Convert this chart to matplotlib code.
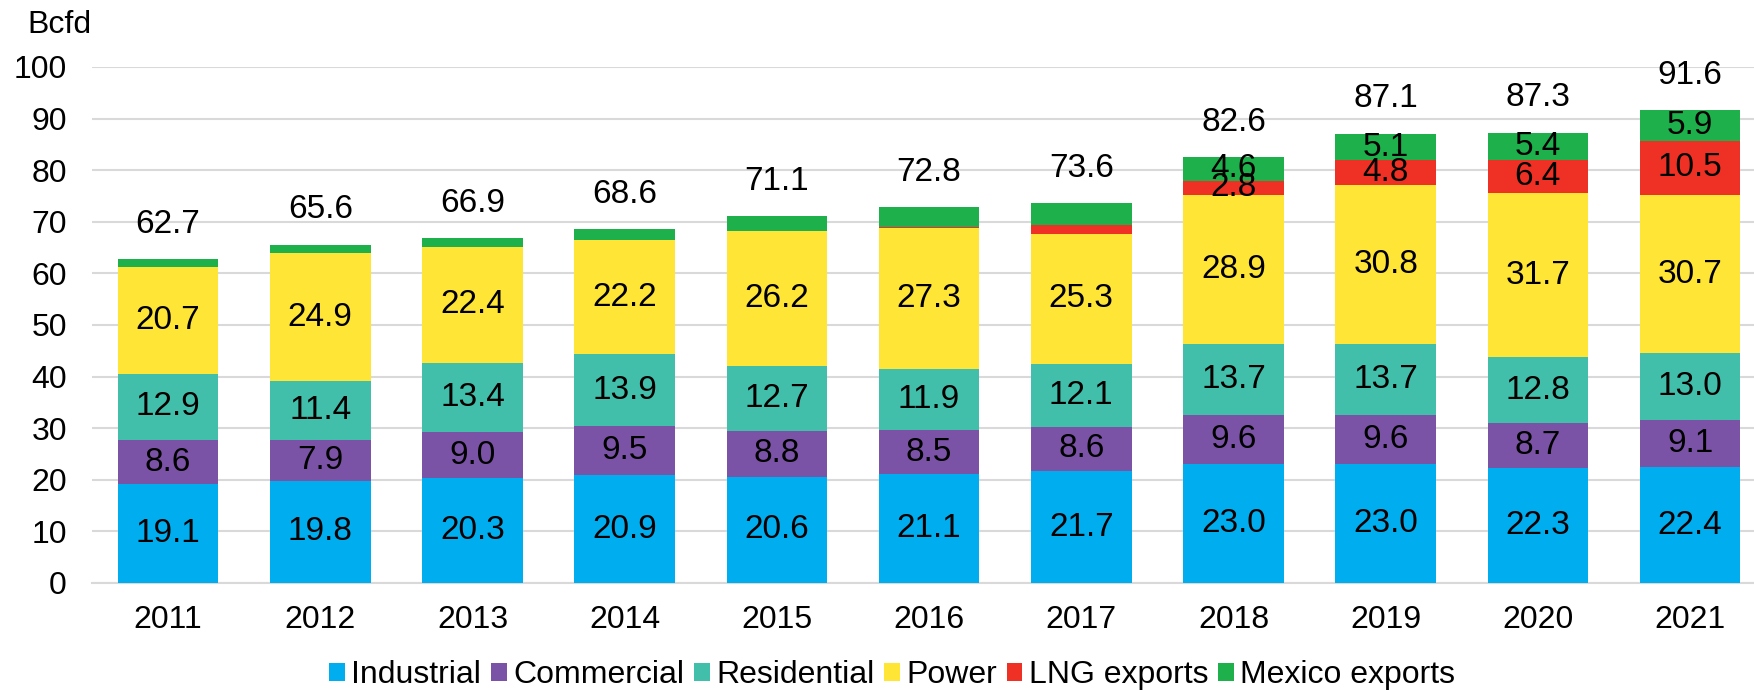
import matplotlib
matplotlib.use("Agg")
import matplotlib.pyplot as plt
from matplotlib.patches import Patch

plt.rcParams['font.family'] = ['Liberation Sans', 'DejaVu Sans']

years = ["2011", "2012", "2013", "2014", "2015", "2016", "2017", "2018", "2019", "2020", "2021"]
industrial = [19.1, 19.8, 20.3, 20.9, 20.6, 21.1, 21.7, 23.0, 23.0, 22.3, 22.4]
commercial = [8.6, 7.9, 9.0, 9.5, 8.8, 8.5, 8.6, 9.6, 9.6, 8.7, 9.1]
residential = [12.9, 11.4, 13.4, 13.9, 12.7, 11.9, 12.1, 13.7, 13.7, 12.8, 13.0]
power = [20.7, 24.9, 22.4, 22.2, 26.2, 27.3, 25.3, 28.9, 30.8, 31.7, 30.7]
lng = [0.0, 0.0, 0.0, 0.0, 0.0, 0.2, 1.7, 2.8, 4.8, 6.4, 10.5]
mexico = [1.4, 1.6, 1.8, 2.1, 2.8, 3.8, 4.2, 4.6, 5.1, 5.4, 5.9]
totals = [62.7, 65.6, 66.9, 68.6, 71.1, 72.8, 73.6, 82.6, 87.1, 87.3, 91.6]

series = [
    ("Industrial", industrial, "#00AEEF", True),
    ("Commercial", commercial, "#7B53A6", True),
    ("Residential", residential, "#41BFAA", True),
    ("Power", power, "#FFE536", True),
    ("LNG exports", lng, "#EE3124", False),
    ("Mexico exports", mexico, "#1DB04B", False),
]

fig = plt.figure(figsize=(17.54, 6.90), dpi=100)
ax = fig.add_axes([92/1754, 1 - 583/690, 1 - 92/1754, (583 - 67)/690])

x = list(range(len(years)))
bottom = [0.0] * len(years)
fs = 24
tfs = 23
for name, vals, col, always in series:
    ax.bar(x, vals, width=0.66, bottom=bottom, color=col, edgecolor='none', zorder=3)
    for i, v in enumerate(vals):
        if always or (i >= 7):
            ax.text(x[i], bottom[i] + v / 2, f"{v:.1f}", ha='center', va='center',
                    fontsize=fs, color='black', zorder=4)
    bottom = [b + v for b, v in zip(bottom, vals)]

for i, t in enumerate(totals):
    ax.text(x[i], t + 6.7, f"{t:.1f}", ha='center', va='center', fontsize=fs, color='black')

ax.set_ylim(0, 100)
ax.set_xlim(-0.5, 10.42)
ax.set_yticks(range(0, 101, 10))
ax.set_xticks(x)
ax.set_xticklabels(years)
ax.tick_params(axis='both', length=0, labelsize=tfs)
ax.tick_params(axis='y', pad=18)
ax.tick_params(axis='x', pad=16)
ax.grid(axis='y', color='#D9D9D9', linewidth=1.5, zorder=0)
for s in ['top', 'right', 'left']:
    ax.spines[s].set_visible(False)
ax.spines['bottom'].set_color('#D9D9D9')
ax.spines['bottom'].set_linewidth(1.5)

fig.text(27/1754, 1 - 25/690, "Bcfd", fontsize=tfs, ha='left', va='center')

handles = [Patch(facecolor=c, edgecolor='none', label=n) for n, _, c, _ in series]
fig.legend(handles=handles, loc='center', bbox_to_anchor=(0.5086, 1 - 675/690), ncol=6,
           frameon=False, fontsize=tfs, handlelength=0.5, handleheight=0.5,
           handletextpad=0.2, columnspacing=0.3, borderaxespad=0)

fig.savefig("out.png", dpi=100)
